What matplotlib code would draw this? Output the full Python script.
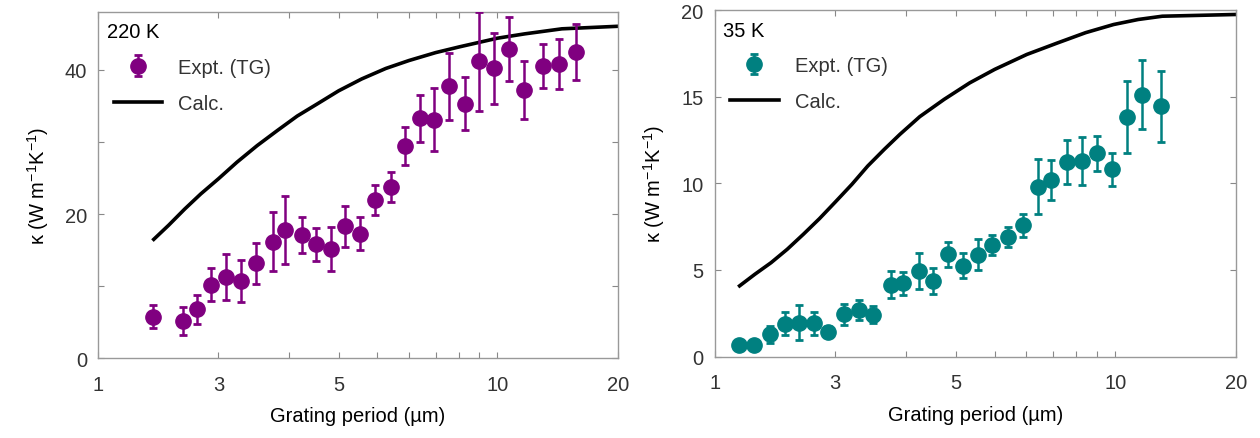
import matplotlib
matplotlib.use('Agg')
import matplotlib.pyplot as plt

plt.rcParams['font.family'] = ['Liberation Sans', 'DejaVu Sans']
plt.rcParams['mathtext.fontset'] = 'custom'
plt.rcParams['mathtext.rm'] = 'Liberation Sans'
plt.rcParams['mathtext.it'] = 'Liberation Sans:italic'

# 220 K: grating period (um), kappa and error
x_220 = [1.37, 1.63, 1.77, 1.92, 2.09, 2.28, 2.49, 2.74, 2.94, 3.24, 3.51, 3.82,
         4.16, 4.52, 4.92, 5.40, 5.87, 6.39, 6.93, 7.57, 8.27, 8.97, 9.82, 10.7,
         11.68, 13.02, 14.22, 15.72]
k_220 = [5.8, 5.2, 6.8, 10.2, 11.3, 10.7, 13.2, 16.2, 17.8, 17.1, 15.8, 15.1,
         18.3, 17.3, 22.0, 23.8, 29.5, 33.3, 33.1, 37.7, 35.3, 41.2, 40.2, 42.9,
         37.2, 40.5, 40.8, 42.5]
e_220 = [1.6, 1.9, 2.0, 2.3, 3.2, 2.9, 2.85, 4.1, 4.7, 2.45, 2.3, 3.05,
         2.8, 2.3, 2.1, 2.1, 2.65, 3.25, 4.4, 4.7, 3.7, 6.9, 4.9, 4.45,
         4.0, 3.05, 3.45, 3.9]
xc_220 = [1.377, 1.50, 1.646, 1.806, 2.0, 2.225, 2.50, 2.81, 3.15, 3.54, 4.0,
          4.57, 5.25, 6.0, 7.0, 8.03, 10.0, 11.7, 14.5, 20.0]
kc_220 = [16.5, 18.45, 20.7, 22.8, 24.9, 27.2, 29.5, 31.6, 33.6, 35.3, 37.1,
          38.75, 40.2, 41.3, 42.4, 43.2, 44.4, 45.0, 45.7, 46.05]

# 35 K
x_35 = [1.149, 1.252, 1.374, 1.50, 1.627, 1.772, 1.922, 2.099, 2.29, 2.49, 2.76,
        2.95, 3.24, 3.51, 3.83, 4.17, 4.53, 4.91, 5.39, 5.89, 6.41, 6.92, 7.59,
        8.27, 8.99, 9.82, 10.7, 11.69, 13.03]
k_35 = [0.67, 0.67, 1.29, 1.9, 1.96, 1.92, 1.44, 2.44, 2.69, 2.42, 4.15,
        4.23, 4.94, 4.35, 5.9, 5.23, 5.87, 6.44, 6.92, 7.58, 9.81, 10.19, 11.23,
        11.29, 11.73, 10.8, 13.83, 15.12, 14.46]
e_35 = [0.1, 0.1, 0.5, 0.65, 1.0, 0.65, 0.3, 0.6, 0.6, 0.5, 0.77,
        0.65, 1.04, 0.75, 0.72, 0.72, 0.9, 0.58, 0.58, 0.65, 1.6, 1.15, 1.26,
        1.4, 1.0, 0.95, 2.1, 2.0, 2.05]
xc_35 = [1.154, 1.26, 1.383, 1.517, 1.665, 1.826, 2.0, 2.20, 2.41, 2.65, 2.9,
         3.25, 3.74, 4.33, 5.0, 6.01, 7.16, 8.43, 9.9, 11.4, 13.1, 20.0]
kc_35 = [4.08, 4.75, 5.42, 6.19, 7.06, 7.96, 8.92, 9.94, 11.0, 11.96, 12.83,
         13.85, 14.85, 15.8, 16.58, 17.44, 18.1, 18.7, 19.17, 19.46, 19.65, 19.75]

fig = plt.figure(figsize=(12.6, 4.39), dpi=100)
ax1 = fig.add_axes([0.078, 0.1815, 0.4122, 0.7895])
ax2 = fig.add_axes([0.5672, 0.1856, 0.4137, 0.789])

panels = [
    (ax1, x_220, k_220, e_220, xc_220, kc_220, '#800080', '220 K', 48.07, [0, 20, 40], [10, 30]),
    (ax2, x_35, k_35, e_35, xc_35, kc_35, '#008080', '35 K', 20, [0, 5, 10, 15, 20], []),
]

fs = 14.5
for ax, x, k, e, xc, kc, col, temp, ytop, yt, ytm in panels:
    eb = ax.errorbar(x, k, yerr=e, fmt='o', color=col, ms=11, elinewidth=1.8,
                     capsize=3, capthick=2, zorder=3)
    ln, = ax.plot(xc, kc, '-', color='black', lw=2.6, zorder=2)
    ax.set_xscale('log')
    ax.set_xlim(1, 20)
    ax.set_ylim(0, ytop)
    ax.set_xticks([1, 2, 4, 10, 20], labels=['1', '3', '5', '10', '20'])
    ax.set_xticks([3, 5, 6, 7, 8, 9], minor=True, labels=[])
    ax.set_yticks(yt)
    ax.set_yticks(ytm, minor=True)
    ax.tick_params(which='both', direction='in', top=True, right=True,
                   length=4, width=0.8, color='#888888', labelsize=fs,
                   labelcolor='#333333', pad=8)
    ax.tick_params(axis='x', pad=12)
    for s in ax.spines.values():
        s.set_color('#999999')
        s.set_linewidth(1)
    ax.set_xlabel('Grating period (µm)', fontsize=fs, labelpad=9)
    ax.set_ylabel(r'κ (W m$^{-1}$K$^{-1}$)', fontsize=fs, labelpad=10)
    ax.text(0.016, 0.97, temp, transform=ax.transAxes, fontsize=fs,
            ha='left', va='top')
    ax.legend([eb, ln], ['Expt. (TG)', 'Calc.'], loc='upper left',
              bbox_to_anchor=(-0.005, 0.92), frameon=False, fontsize=fs,
              handlelength=2.4, labelspacing=0.85, handletextpad=0.8,
              labelcolor='#333333')

plt.savefig('out.png', dpi=100)
